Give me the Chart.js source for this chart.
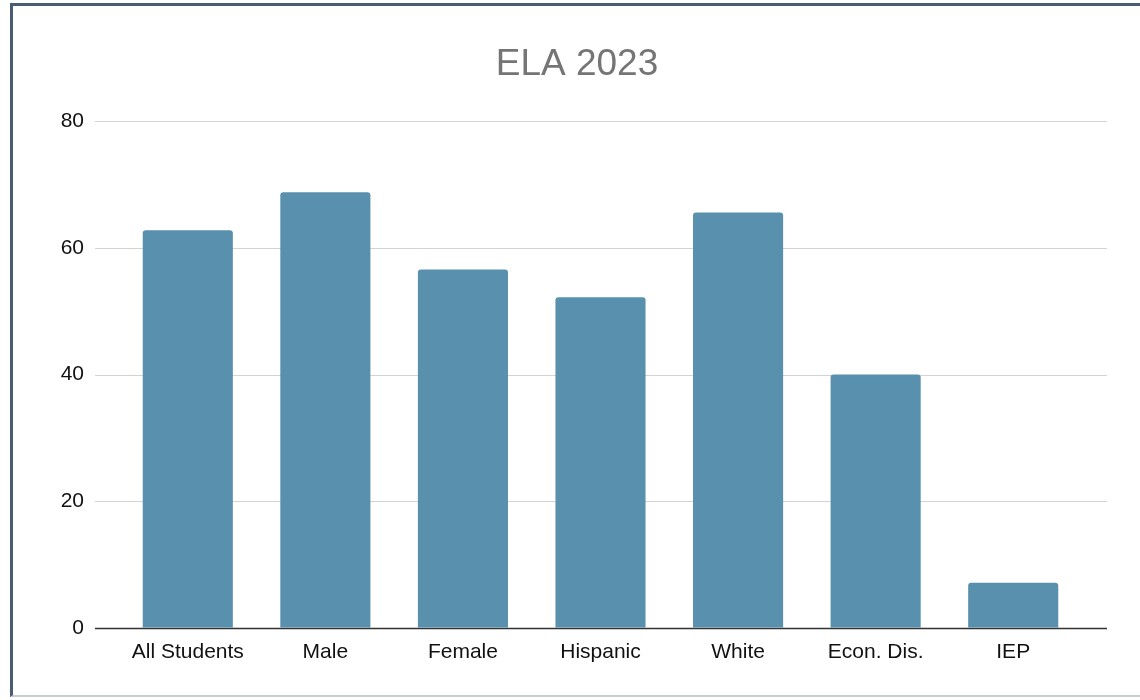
<!DOCTYPE html>
<html>
<head>
<meta charset="utf-8">
<script src="https://cdn.jsdelivr.net/npm/chart.js@4"></script>
<style>
	html, body { margin: 0; padding: 0; background: #fff; }
	#wrap { position: relative; width: 1140px; height: 700px; overflow: hidden; }
	#frame {
		position: absolute; left: 10px; top: 3px; width: 1140px; height: 694px;
		border-left: 3px solid #4a5b74; border-top: 3px solid #4a5b74;
		border-bottom: 2px solid #c8ccd2; box-sizing: border-box;
	}
	canvas { position: absolute; left: 0; top: 0; }
</style>
</head>
<body>
<div id="wrap">
	<div id="frame"></div>
	<canvas id="out" width="1140" height="700"></canvas>
</div>
<script>
const categories = ["All Students", "Male", "Female", "Hispanic", "White", "Econ. Dis.", "IEP"];
const scores = [62.8, 68.8, 56.6, 52.2, 65.6, 40.0, 7.1];
const yTicks = [0, 20, 40, 60, 80];

// gridlines in the reference run a bit past the outer bars
const wideGrid = {
	id: "wideGrid",
	beforeDatasetsDraw(chart) {
		const ctx = chart.ctx;
		const area = chart.chartArea;
		const y = chart.scales.y;
		ctx.save();
		yTicks.forEach(function(v) {
			const py = Math.round(y.getPixelForValue(v)) + 0.5;
			ctx.beginPath();
			ctx.strokeStyle = v === 0 ? "#333333" : "#d3d3d3";
			ctx.lineWidth = v === 0 ? 1.5 : 1;
			ctx.moveTo(area.left - 24, py);
			ctx.lineTo(area.right + 25, py);
			ctx.stroke();
		});
		ctx.restore();
	}
};

const canvasCtx = document.getElementById("out").getContext("2d");
window.chart = new Chart(canvasCtx, {
	type: "bar",
	data: {
		labels: categories,
		datasets: [{
			label: "ELA 2023",
			data: scores,
			backgroundColor: "#5990ad",
			borderRadius: { topLeft: 3, topRight: 3 },
			borderSkipped: "bottom",
			categoryPercentage: 1,
			barPercentage: 0.655
		}]
	},
	options: {
		responsive: false,
		animation: false,
		layout: { padding: { left: 14, right: 0, top: 0, bottom: 31 } },
		plugins: {
			legend: { display: false },
			tooltip: { enabled: false },
			title: {
				display: true,
				text: "ELA 2023",
				color: "#757575",
				font: { family: "'Liberation Sans', Arial, sans-serif", size: 37, weight: "normal" },
				padding: { top: 43, bottom: 34 }
			}
		},
		scales: {
			x: {
				grid: { display: false },
				border: { display: false },
				ticks: {
					color: "#111",
					font: { family: "'Liberation Sans', Arial, sans-serif", size: 21 },
					padding: 4,
					maxRotation: 0
				}
			},
			y: {
				min: 0,
				max: 80,
				afterFit(scale) { scale.width = 105; },
				grid: { display: false },
				border: { display: false },
				afterBuildTicks(scale) { scale.ticks = yTicks.map(v => ({ value: v })); },
				ticks: {
					color: "#111",
					font: { family: "'Liberation Sans', Arial, sans-serif", size: 21 },
					padding: 27
				}
			},
			// empty right-hand strip so the plot ends where the reference does
			yRight: {
				position: "right",
				min: 0,
				max: 80,
				afterFit(scale) { scale.width = 58; },
				grid: { display: false },
				border: { display: false },
				ticks: { display: false }
			}
		}
	},
	plugins: [wideGrid]
});
</script>
</body>
</html>
